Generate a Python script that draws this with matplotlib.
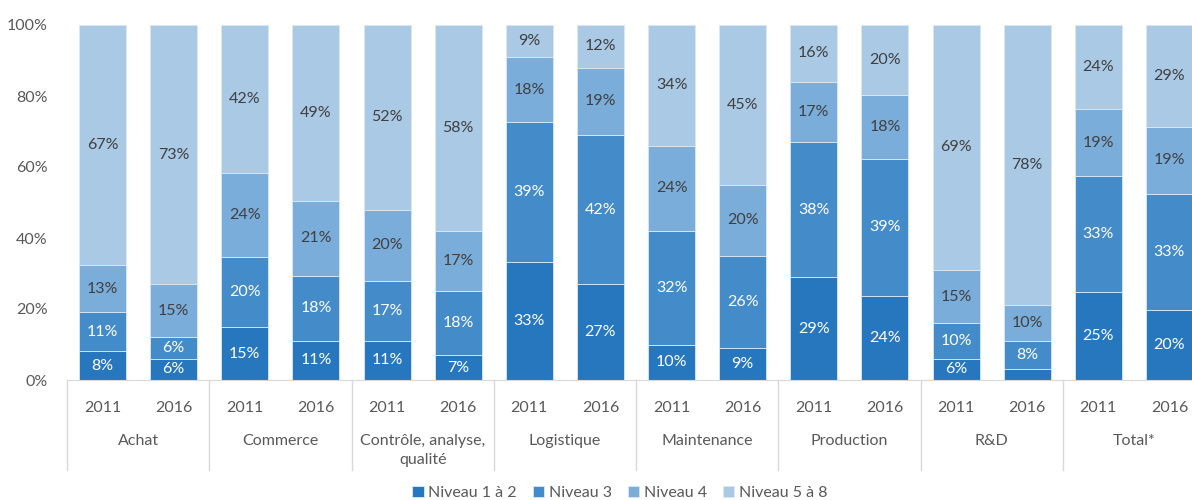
import numpy as np
import matplotlib
matplotlib.use("Agg")
import matplotlib.pyplot as plt

plt.rcParams['font.family'] = ['Lato', 'DejaVu Sans']

categories = ["Achat", "Commerce", "Contrôle, analyse,\nqualité", "Logistique",
              "Maintenance", "Production", "R&D", "Total*"]
years = ["2011", "2016"]
series_names = ["Niveau 1 à 2", "Niveau 3", "Niveau 4", "Niveau 5 à 8"]

# one value per bar (2011, 2016 for each category in order)
niveau_1_2 = [8, 6, 15, 11, 11, 7, 33, 27, 10, 9, 29, 24, 6, 3, 25, 20]
niveau_3 = [11, 6, 20, 18, 17, 18, 39, 42, 32, 26, 38, 39, 10, 8, 33, 33]
niveau_4 = [13, 15, 24, 21, 20, 17, 18, 19, 24, 20, 17, 18, 15, 10, 19, 19]
niveau_5_8 = [67, 73, 42, 49, 52, 58, 9, 12, 34, 45, 16, 20, 69, 78, 24, 29]

colors = ["#2777BF", "#438BC9", "#7AADD9", "#A9C9E5"]
label_colors = ["white", "white", "#404040", "#404040"]

data = np.array([niveau_1_2, niveau_3, niveau_4, niveau_5_8], dtype=float)
shares = data / data.sum(axis=0) * 100

fig = plt.figure(figsize=(11.92, 5), dpi=100)
ax = fig.add_axes([67 / 1192, 120 / 500, 1138 / 1192, 355 / 500])

x = np.arange(16) + 0.5
bottom = np.zeros(16)
for k in range(4):
    ax.bar(x, shares[k], 0.66, bottom=bottom, color=colors[k],
           edgecolor="#DCE8F4", linewidth=0.6, label=series_names[k])
    for i in range(16):
        if data[k, i] >= 5:
            ax.text(x[i], bottom[i] + shares[k, i] / 2, f"{int(data[k, i])}%",
                    ha="center", va="center", fontsize=11.5, color=label_colors[k])
    bottom += shares[k]

ax.set_xlim(0, 16)
ax.set_ylim(0, 100)
ax.set_yticks(range(0, 101, 20))
ax.set_yticklabels([f"{v}%" for v in range(0, 101, 20)], fontsize=11.5, color="#595959")
ax.tick_params(axis="y", length=0, pad=14)
ax.set_xticks([])
for s in ["top", "right", "left"]:
    ax.spines[s].set_visible(False)
ax.spines["bottom"].set_color("#D9D9D9")

tr = ax.get_xaxis_transform()
for i in range(16):
    ax.text(x[i], -0.079, years[i % 2], transform=tr, ha="center", va="center",
            fontsize=11.5, color="#595959")
for c, name in enumerate(categories):
    ax.text(2 * c + 1, -0.152, name, transform=tr, ha="center", va="top",
            fontsize=11.5, color="#595959", linespacing=1.45)
for c in range(9):
    ax.plot([2 * c, 2 * c], [0, -0.254], transform=tr, color="#D9D9D9",
            linewidth=1, clip_on=False)

fig.legend(loc="center", bbox_to_anchor=(620 / 1192, 7 / 500), ncol=4,
           frameon=False, fontsize=11.5, handlelength=0.7, handleheight=0.7,
           handletextpad=0.3, columnspacing=1.0, labelcolor="#595959")

fig.savefig("out.png", dpi=100)
